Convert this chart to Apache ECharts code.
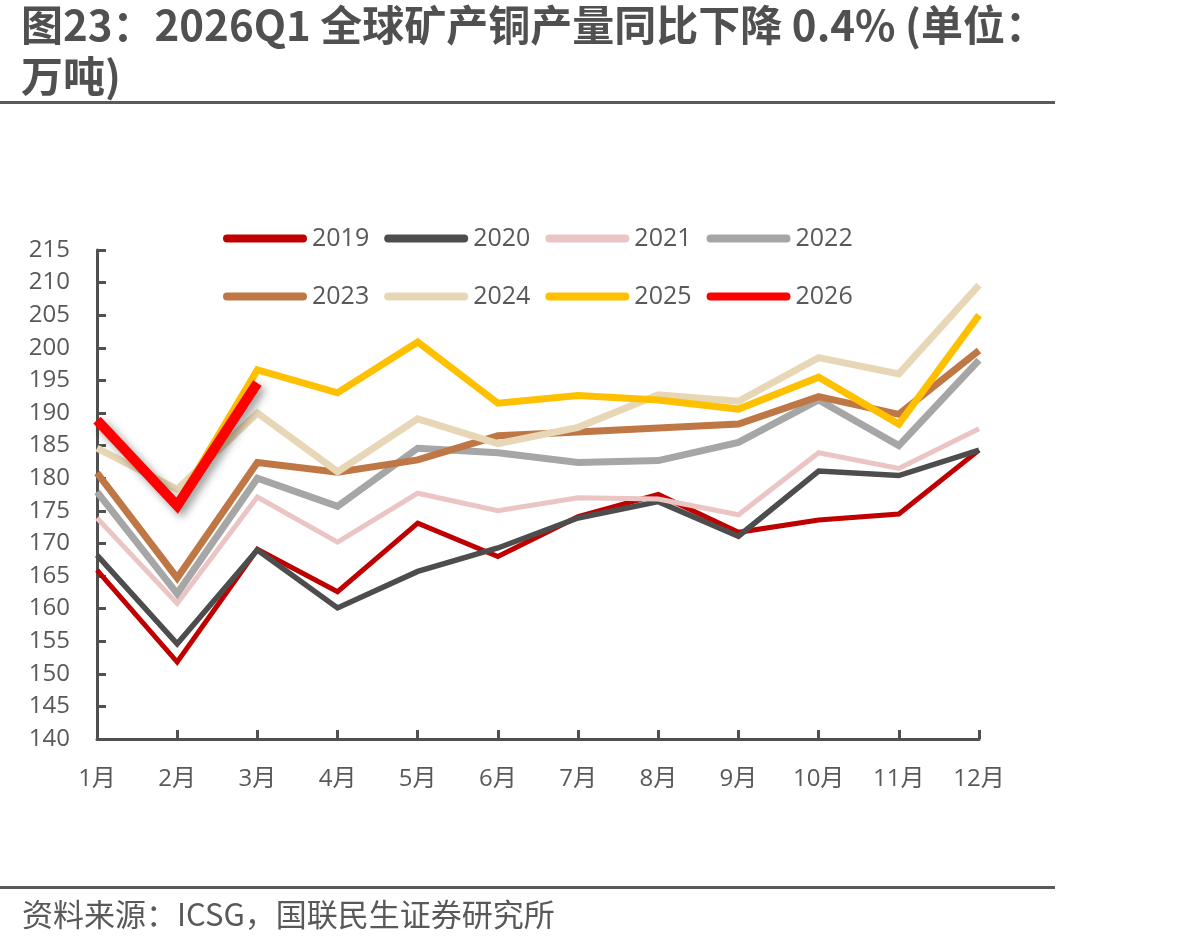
<!DOCTYPE html>
<html>
<head>
<meta charset="utf-8">
<script src="https://cdn.jsdelivr.net/npm/echarts@6/dist/echarts.min.js"></script>
<style>
html,body{margin:0;padding:0;background:#fff;}
#chart{width:1195px;height:949px;}
</style>
</head>
<body>
<div id="chart"></div>
<script>
const months = ['1月','2月','3月','4月','5月','6月','7月','8月','9月','10月','11月','12月'];
const y2019 = [165.9, 151.8, 169.1, 162.6, 173.1, 168.0, 174.1, 177.5, 171.7, 173.6, 174.5, 184.3];
const y2020 = [168.2, 154.6, 169.0, 160.1, 165.7, 169.3, 173.9, 176.4, 171.1, 181.1, 180.4, 184.3];
const y2021 = [173.9, 160.8, 177.1, 170.2, 177.7, 175.0, 177.0, 176.8, 174.4, 183.9, 181.5, 187.6];
const y2022 = [177.9, 162.3, 180.0, 175.7, 184.6, 183.9, 182.4, 182.7, 185.5, 192.0, 185.0, 198.1];
const y2023 = [180.8, 164.7, 182.4, 180.9, 182.8, 186.5, 187.1, 187.7, 188.3, 192.5, 189.8, 199.6];
const y2024 = [184.6, 178.3, 190.0, 181.0, 189.1, 185.3, 187.8, 192.8, 191.8, 198.5, 196.0, 209.6];
const y2025 = [188.8, 176.0, 196.6, 193.1, 200.9, 191.5, 192.7, 192.0, 190.6, 195.5, 188.3, 205.0];
const y2026 = [188.9, 175.8, 194.6];

const titleText = '图23：2026Q1 全球矿产铜产量同比下降 0.4% (单位：\n万吨)';
const sourceText = '资料来源：ICSG，国联民生证券研究所';

const FONT = '"Open Sans","Noto Sans CJK SC",sans-serif';
const TXT = '#595959';

const seriesDefs = [
  {name:'2019', data:y2019, color:'#C00000', width:5},
  {name:'2020', data:y2020, color:'#4D4D4D', width:5.5},
  {name:'2021', data:y2021, color:'#EBC4C4', width:5},
  {name:'2022', data:y2022, color:'#A6A6A6', width:7},
  {name:'2023', data:y2023, color:'#BF7845', width:7},
  {name:'2024', data:y2024, color:'#E8D7B6', width:7},
  {name:'2025', data:y2025, color:'#FFC000', width:7},
  {name:'2026', data:y2026, color:'#FF0000', width:10, shadow:true}
];

const icon = 'path://M4,0 L80,0 A4,4 0 0 1 80,8 L4,8 A4,4 0 0 1 4,0 Z';
const legendCommon = {
  orient:'horizontal', itemWidth:84, itemHeight:8, itemGap:15, icon: icon,
  textStyle:{fontFamily:FONT, fontSize:25, color:TXT}
};

const chart = echarts.init(document.getElementById('chart'), null, {renderer:'canvas'});
chart.setOption({
  backgroundColor:'#fff',
  animation:false,
  graphic:[
    {type:'text', left:21, top:0, style:{text:titleText, font:'bold 42px "Noto Sans CJK SC","Open Sans",sans-serif', fill:'#505050', lineHeight:51}},
    {type:'rect', left:0, top:101, shape:{width:1055, height:3}, style:{fill:'#595959'}},
    {type:'rect', left:0, top:886, shape:{width:1055, height:3}, style:{fill:'#595959'}},
    {type:'text', left:22, top:899, style:{text:sourceText, font:'31px "Noto Sans CJK SC","Open Sans",sans-serif', fill:TXT}}
  ],
  legend:[
    Object.assign({left:218, top:221, data:['2019','2020','2021','2022']}, legendCommon),
    Object.assign({left:218, top:279, data:['2023','2024','2025','2026']}, legendCommon)
  ],
  grid:{left:97, top:250, width:882, height:489, containLabel:false},
  xAxis:{
    type:'category', data:months, boundaryGap:false,
    axisLine:{lineStyle:{color:'#505050', width:3}},
    axisTick:{show:true, inside:true, length:9, alignWithLabel:true, lineStyle:{color:'#505050', width:3}},
    axisLabel:{fontFamily:FONT, fontSize:24, color:TXT, margin:28},
    splitLine:{show:false}
  },
  yAxis:{
    type:'value', min:140, max:215, interval:5,
    axisLine:{show:true, lineStyle:{color:'#505050', width:3}},
    axisTick:{show:true, inside:true, length:9, lineStyle:{color:'#505050', width:3}},
    axisLabel:{fontFamily:FONT, fontSize:24, color:TXT, margin:27},
    splitLine:{show:false}
  },
  series: seriesDefs.map(s => ({
    name:s.name, type:'line', data:s.data, symbol:'none', smooth:false,
    itemStyle:{color:s.color},
    lineStyle: Object.assign({color:s.color, width:s.width, join:'miter', cap:'butt'},
      s.shadow ? {shadowColor:'rgba(0,0,0,0.4)', shadowBlur:8, shadowOffsetX:4, shadowOffsetY:4} : {}),
    z: 2
  }))
});
</script>
</body>
</html>
